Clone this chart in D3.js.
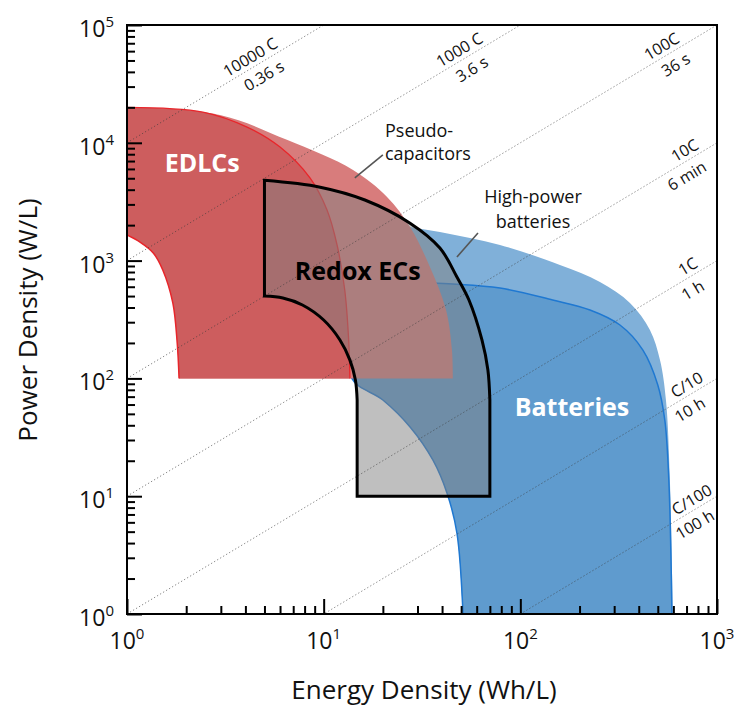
<!DOCTYPE html>
<html>
<head>
<meta charset="utf-8">
<script src="https://cdn.jsdelivr.net/npm/d3@7"></script>
<style>
  body { margin: 0; background: #fff; }
  text { font-family: "Open Sans", sans-serif; }
</style>
</head>
<body>
<svg id="chart" width="741" height="706"></svg>
<script>
// Ragone plot -- energy vs power density, log-log

var xTicks = [1, 10, 100, 1000];
var yTicks = [1, 10, 100, 1000, 10000, 100000];

// C-rate guide lines: P = C * E
var cRates = [10000, 1000, 100, 10, 1, 0.1, 0.01];
var rateLabels = [
  {text: "10000 C", c: 10000, e: 4.5, side: 1},
  {text: "0.36 s", c: 10000, e: 4.6, side: -1},
  {text: "1000 C", c: 1000, e: 52, side: 1},
  {text: "3.6 s", c: 1000, e: 52.5, side: -1},
  {text: "100C", c: 100, e: 556, side: 1},
  {text: "36 s", c: 100, e: 571, side: -1},
  {text: "10C", c: 10, e: 728, side: 1},
  {text: "6 min", c: 10, e: 650, side: -1},
  {text: "1C", c: 1, e: 754, side: 1},
  {text: "1 h", c: 1, e: 697, side: -1},
  {text: "C/10", c: 0.1, e: 745, side: 1},
  {text: "10 h", c: 0.1, e: 673, side: -1},
  {text: "C/100", c: 0.01, e: 790, side: 1},
  {text: "100 h", c: 0.01, e: 714, side: -1}
];

// region outlines, [energy Wh/L, power W/L]
var edlcOuter = [[1, 20000], [2.43, 18250], [4.08, 13600], [6.0, 9200], [8.52, 5030],
  [10.4, 2690], [11.7, 1357], [12.8, 563], [13.4, 212], [13.6, 100]];
var edlcInner = [[1.84, 100], [1.80, 200], [1.71, 437], [1.52, 832], [1.36, 1160],
  [1.16, 1440], [1, 1650]];
var pseudoOuter = [[1, 20000], [2.97, 17200], [6.5, 10600], [14.1, 5880], [21, 3470],
  [27.5, 1930], [34.7, 882], [41.9, 381], [44.9, 174], [45.4, 100]];
var batteryTop = [[24.4, 658], [45.4, 633], [78.8, 585], [146, 463], [226, 381],
  [321, 284], [420, 174], [500, 88], [543, 44], [569, 13.7], [590, 1]];
var batteryLeft = [[51.1, 1], [47.6, 4.87], [42.4, 10.6], [35.9, 20.3], [27.5, 38.7],
  [20, 65.6], [13.9, 100], [14, 300], [24.4, 658]];
var highPowerTop = [[9.6, 2690], [19.3, 2130], [39, 1750], [78.8, 1357], [159, 918],
  [254, 658], [361, 437], [456, 258], [513, 143], [550, 65.6], [576, 13.7], [597, 1]];
var redoxOuter = [[5, 4800], [9.6, 4200], [16.2, 3270], [27.5, 2080], [39, 1280],
  [47.6, 726], [54.8, 463], [63.8, 212], [68.4, 118], [70, 65.6]];
var redoxBase = [[70, 10], [14.8, 10]];
var redoxInner = [[14.8, 65.6], [14.5, 97], [13.6, 143], [12.1, 212], [10, 313],
  [7.8, 420], [6.2, 481], [5, 500]];

var regionLabels = [
  {text: "EDLCs", e: 2.41, p: 6740},
  {text: "Redox ECs", e: 14.9, p: 816},
  {text: "Batteries", e: 183, p: 57.2}
];
var calloutLines = [
  {text: "Pseudo-", e: 20.5, p: 11200},
  {text: "capacitors", e: 20.5, p: 7170},
  {text: "High-power", e: 116, p: 3100},
  {text: "batteries", e: 116, p: 1900}
];
var leaders = [
  [[20, 7880], [14.4, 5030]],
  [[60.9, 1715], [47.6, 1073]]
];

var svg = d3.select("#chart");
var x = d3.scaleLog().domain([1, 1000]).range([127, 717]);
var y = d3.scaleLog().domain([1, 100000]).range([614, 25]);

var lineLin = d3.line().x(function (d) { return x(d[0]); }).y(function (d) { return y(d[1]); });
var lineCurve = d3.line().x(function (d) { return x(d[0]); }).y(function (d) { return y(d[1]); })
  .curve(d3.curveCatmullRom.alpha(0.5));

// glue several runs into one closed outline
function joinPath(parts) {
  return parts.map(function (p, i) {
    var s = (p[1] ? lineCurve : lineLin)(p[0]);
    return i === 0 ? s : "L" + s.slice(1);
  }).join("") + "Z";
}

svg.append("clipPath").attr("id", "plotclip")
  .append("rect")
  .attr("x", x(1)).attr("y", y(100000))
  .attr("width", x(1000) - x(1)).attr("height", y(1) - y(100000));

var regions = svg.append("g").attr("clip-path", "url(#plotclip)");

// batteries first, the capacitors sit on top of them
regions.append("path")
  .attr("d", joinPath([[highPowerTop, true], [batteryLeft, true]]))
  .attr("fill", "#80b0d9");
regions.append("path")
  .attr("d", joinPath([[batteryTop, true], [batteryLeft, true]]))
  .attr("fill", "#5f9bce");
regions.append("path").attr("d", lineCurve(batteryTop))
  .attr("fill", "none").attr("stroke", "#1f78d1").attr("stroke-width", 1.5);
regions.append("path").attr("d", lineCurve(batteryLeft))
  .attr("fill", "none").attr("stroke", "#1f78d1").attr("stroke-width", 1.5);

regions.append("path")
  .attr("d", joinPath([[pseudoOuter, true], [edlcInner, true]]))
  .attr("fill", "#d87c7c");
regions.append("path")
  .attr("d", joinPath([[edlcOuter, true], [edlcInner, true]]))
  .attr("fill", "#cd5d5e");
regions.append("path").attr("d", lineCurve(edlcOuter))
  .attr("fill", "none").attr("stroke", "#e8262b").attr("stroke-width", 1.3);
regions.append("path").attr("d", lineCurve(edlcInner))
  .attr("fill", "none").attr("stroke", "#e8262b").attr("stroke-width", 1.5);

var redoxD = joinPath([[redoxOuter, true], [redoxBase, false], [redoxInner, true]]);
regions.append("path").attr("d", redoxD)
  .attr("fill", "#808080").attr("fill-opacity", 0.5);

// dotted C-rate lines
regions.selectAll(".rate")
  .data(cRates)
  .enter().append("path")
  .attr("class", "rate")
  .attr("d", function (c) { return lineLin([[1, c], [1000, c * 1000]]); })
  .attr("fill", "none")
  .attr("stroke", "#3a3a3a")
  .attr("stroke-opacity", 0.6)
  .attr("stroke-width", 1)
  .attr("stroke-dasharray", "1.3,2.2");

regions.append("path").attr("d", redoxD)
  .attr("fill", "none").attr("stroke", "#000").attr("stroke-width", 3)
  .attr("stroke-linejoin", "miter");

// axes: ticks point into the plot
function styleAxis(g) {
  g.select(".domain").remove();
  g.selectAll(".tick line").attr("stroke", "#000").attr("stroke-width", 2);
}
var minorX = x.ticks().filter(function (t) { return xTicks.indexOf(t) < 0; });
var minorY = y.ticks().filter(function (t) { return yTicks.indexOf(t) < 0; });

svg.append("g").attr("transform", "translate(0," + y(1) + ")")
  .call(d3.axisBottom(x).tickValues(minorX).tickSize(-8).tickFormat(""))
  .call(styleAxis);
svg.append("g").attr("transform", "translate(0," + y(1) + ")")
  .call(d3.axisBottom(x).tickValues(xTicks).tickSize(-15).tickFormat(""))
  .call(styleAxis);
svg.append("g").attr("transform", "translate(" + x(1) + ",0)")
  .call(d3.axisLeft(y).tickValues(minorY).tickSize(-8).tickFormat(""))
  .call(styleAxis);
svg.append("g").attr("transform", "translate(" + x(1) + ",0)")
  .call(d3.axisLeft(y).tickValues(yTicks).tickSize(-15).tickFormat(""))
  .call(styleAxis);

svg.append("rect")
  .attr("x", x(1)).attr("y", y(100000))
  .attr("width", x(1000) - x(1)).attr("height", y(1) - y(100000))
  .attr("fill", "none").attr("stroke", "#000").attr("stroke-width", 2);

function powerLabel(sel) {
  sel.append("tspan").text("10");
  sel.append("tspan").attr("dy", -10).attr("font-size", 15)
    .text(function (t) { return Math.round(Math.log10(t)); });
}
svg.selectAll(".xlab").data(xTicks).enter().append("text")
  .attr("class", "xlab")
  .attr("x", function (t) { return x(t); })
  .attr("y", 649)
  .attr("text-anchor", "middle")
  .attr("font-size", 23)
  .attr("fill", "#111")
  .call(powerLabel);
svg.selectAll(".ylab").data(yTicks).enter().append("text")
  .attr("class", "ylab")
  .attr("x", 114)
  .attr("y", function (t) { return y(t) + 12; })
  .attr("text-anchor", "end")
  .attr("font-size", 23)
  .attr("fill", "#111")
  .call(powerLabel);

svg.append("text")
  .attr("x", 424).attr("y", 699)
  .attr("text-anchor", "middle").attr("font-size", 26).attr("fill", "#111")
  .text("Energy Density (Wh/L)");
svg.append("text")
  .attr("transform", "translate(37,320) rotate(-90)")
  .attr("text-anchor", "middle").attr("font-size", 26).attr("fill", "#111")
  .text("Power Density (W/L)");

// C-rate captions, turned to follow the lines
var ang = Math.atan2(y(10) - y(1), x(10) - x(1));
var nx = Math.sin(ang), ny = -Math.cos(ang);
svg.selectAll(".ratelab").data(rateLabels).enter().append("text")
  .attr("class", "ratelab")
  .attr("transform", function (d) {
    var off = d.side > 0 ? 10 : -13;
    var cx = x(d.e) + nx * off, cy = y(d.c * d.e) + ny * off;
    return "translate(" + cx + "," + cy + ") rotate(" + (ang * 180 / Math.PI) + ")";
  })
  .attr("dy", "0.35em")
  .attr("text-anchor", "middle")
  .attr("font-size", 16)
  .attr("fill", "#111")
  .text(function (d) { return d.text; });

svg.selectAll(".leader").data(leaders).enter().append("path")
  .attr("class", "leader")
  .attr("d", lineLin)
  .attr("stroke", "#555").attr("stroke-width", 1.6).attr("fill", "none");

var calloutAnchor = ["start", "start", "middle", "middle"];
svg.selectAll(".callout").data(calloutLines).enter().append("text")
  .attr("class", "callout")
  .attr("x", function (d) { return x(d.e); })
  .attr("y", function (d) { return y(d.p); })
  .attr("text-anchor", function (d, i) { return calloutAnchor[i]; })
  .attr("font-size", 18)
  .attr("fill", "#111")
  .text(function (d) { return d.text; });

var labelColor = ["#fff", "#000", "#fff"];
svg.selectAll(".region-label").data(regionLabels).enter().append("text")
  .attr("class", "region-label")
  .attr("x", function (d) { return x(d.e); })
  .attr("y", function (d) { return y(d.p); })
  .attr("dy", "0.35em")
  .attr("text-anchor", "middle")
  .attr("font-size", 25)
  .attr("font-weight", "bold")
  .attr("fill", function (d, i) { return labelColor[i]; })
  .text(function (d) { return d.text; });
</script>
</body>
</html>
